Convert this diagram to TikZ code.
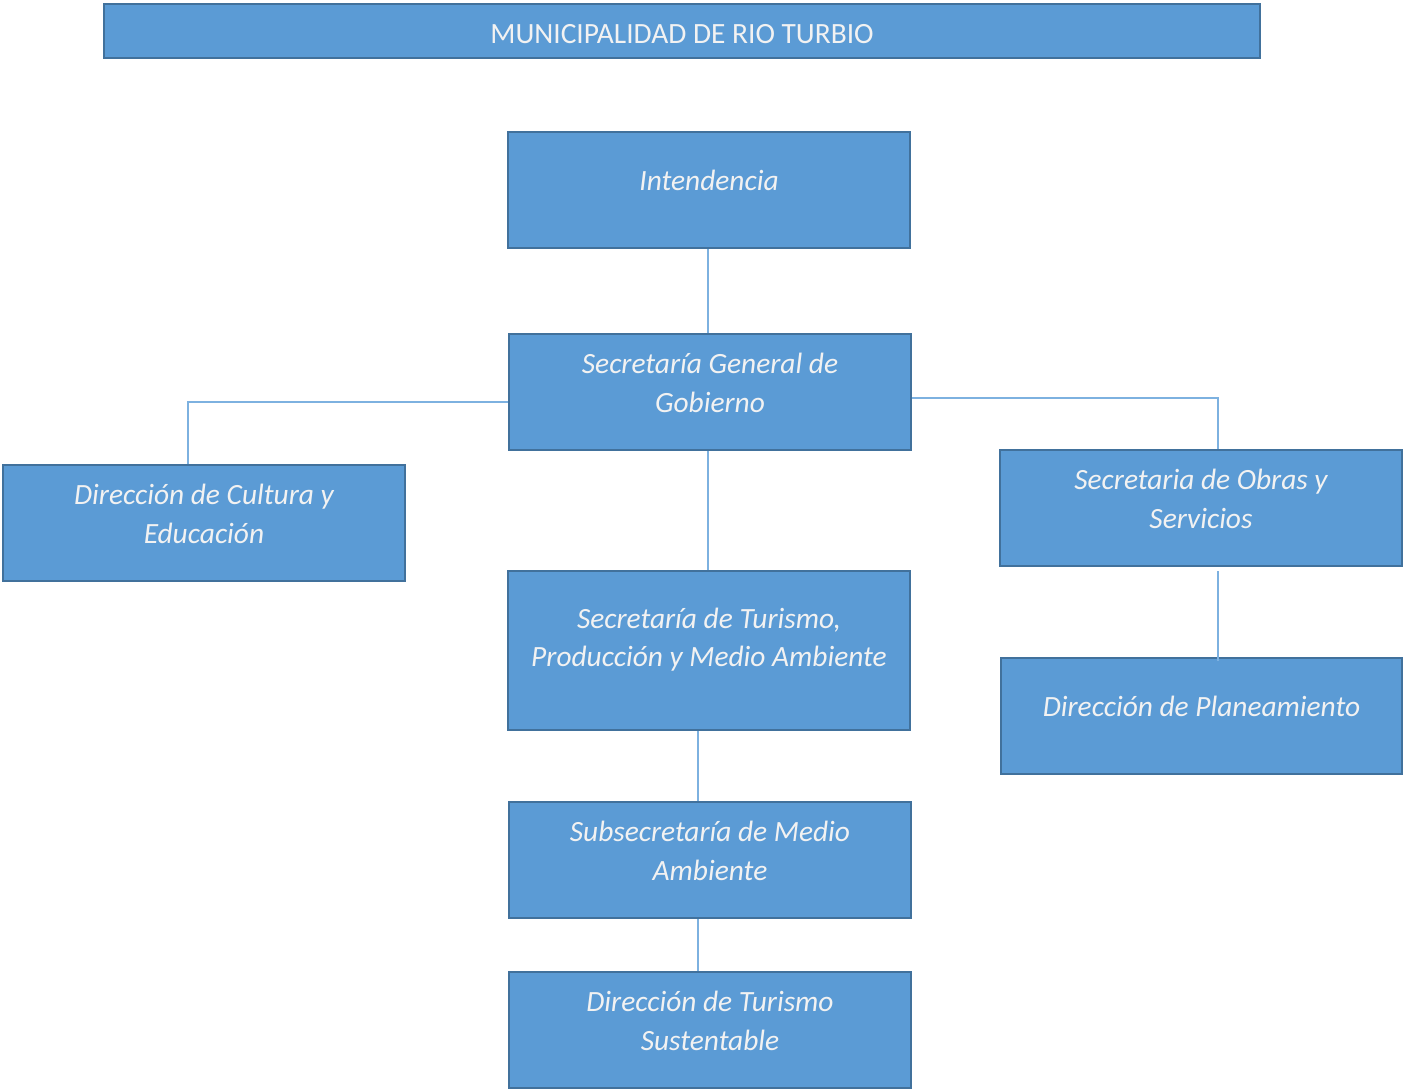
\documentclass[tikz,border=0pt]{standalone}
\usepackage{fontspec}
\setmainfont{Carlito}
\definecolor{boxfill}{HTML}{5B9BD5}
\definecolor{boxline}{HTML}{41719C}
\definecolor{boxtext}{HTML}{F2F2F2}
\definecolor{linkline}{HTML}{7DB1E0}
\tikzset{
    box/.style={draw=boxline, fill=boxfill, line width=2.4pt, rectangle,
        minimum width=402, minimum height=116, inner sep=0pt},
    txt/.style={text=boxtext, align=center, inner sep=0pt,
        font=\fontsize{29.4}{38.5}\selectfont\itshape},
    link/.style={draw=linkline, line width=1.6pt}
}
\begin{document}
\begin{tikzpicture}[x=1pt, y=-1pt]
        \useasboundingbox (0,0) rectangle (1403,1090);
        % boxes
        \node[box, minimum width=1156, minimum height=54] (title) at (682,31) {};
        \node[box] (intend)  at (709,190)   {};
        \node[box] (secgen)  at (710,392)   {};
        \node[box] (cultura) at (204,523)   {};
        \node[box] (obras)   at (1201,508)  {};
        \node[box, minimum height=159] (turismo) at (709,650.5) {};
        \node[box, minimum width=401] (planea) at (1201.5,716) {};
        \node[box] (subsec)  at (710,860)   {};
        \node[box] (dirtur)  at (710,1030)  {};
        % texts
        \node[txt, font=\fontsize{29.4}{38.5}\selectfont] (title-t) at ([yshift=-3]title.center) {MUNICIPALIDAD DE RIO TURBIO};
        \node[txt] (intend-t)  at ([yshift=10]intend.center)  {Intendencia};
        \node[txt] (secgen-t)  at ([yshift=9]secgen.center)   {Secretaría General de\\Gobierno};
        \node[txt] (cultura-t) at ([yshift=9]cultura.center)  {Dirección de Cultura y\\Educación};
        \node[txt] (obras-t)   at ([yshift=9]obras.center)    {Secretaria de Obras y\\Servicios};
        \node[txt] (turismo-t) at ([yshift=11]turismo.center) {Secretaría de Turismo,\\Producción y Medio Ambiente};
        \node[txt] (planea-t)  at ([yshift=10]planea.center)  {Dirección de Planeamiento};
        \node[txt] (subsec-t)  at ([yshift=9]subsec.center)   {Subsecretaría de Medio\\Ambiente};
        \node[txt] (dirtur-t)  at ([yshift=9]dirtur.center)   {Dirección de Turismo\\Sustentable};
        % connectors
        \draw[link] ([xshift=-1]intend.south) -- ([xshift=-1]intend.south |- secgen.north);
        \draw[link] ([yshift=-10]secgen.west) -| ([xshift=-16]cultura.north);
        \draw[link] ([yshift=-6]secgen.east) -| ([xshift=17]obras.north);
        \draw[link] ([xshift=-2]secgen.south) -- ([xshift=-2]secgen.south |- turismo.north);
        \draw[link] ([xshift=-11]turismo.south) -- ([xshift=-11]turismo.south |- subsec.north);
        \draw[link] ([xshift=-12]subsec.south) -- ([xshift=-12]subsec.south |- dirtur.north);
        \draw[link] ([xshift=17,yshift=-4]obras.south) -- ([xshift=17,yshift=-4]obras.south |- planea.north);
\end{tikzpicture}
\end{document}
